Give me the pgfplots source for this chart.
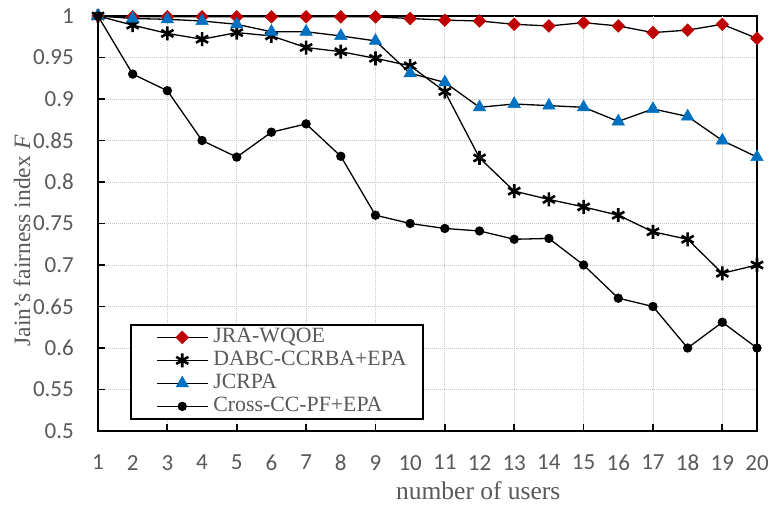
\documentclass[border=0pt]{standalone}
\usepackage{fontspec}
\setmainfont{Liberation Serif}
\newfontfamily\calibri{Carlito}
\usepackage{pgfplots}
\pgfplotsset{compat=1.18}
\usetikzlibrary{calc}
\definecolor{txtgray}{HTML}{595959}
\definecolor{mred}{HTML}{C00000}
\definecolor{mblue}{HTML}{0070C0}
\begin{document}
\begin{tikzpicture}
\begin{axis}[
  scale only axis, width=659pt, height=415pt,
  xmin=1, xmax=20, ymin=0.5, ymax=1,
  clip=false,
  axis line style={line width=2.2pt, black},
  tick align=inside, tick pos=left,
  major tick length=7pt,
  tick style={line width=1.8pt, black},
  /pgf/number format/assume math mode=true,
  ticklabel style={font=\calibri\fontsize{23}{23}\selectfont, text=txtgray, inner sep=0pt},
  xtick={1,...,20},
  xtick style={draw=none},
  xticklabel shift=24pt,
  extra x ticks={3,5,7,9,11,13,15,17,19},
  extra x tick labels={},
  extra x tick style={xmajorgrids=true, xtick style={draw=black}},
  ytick={0.5,0.55,0.6,0.65,0.7,0.75,0.8,0.85,0.9,0.95,1},
  yticklabels={0.5,0.55,0.6,0.65,0.7,0.75,0.8,0.85,0.9,0.95,1},
  yticklabel shift=24pt,
  ymajorgrids=true,
  major grid style={gray!45, line width=0.9pt, dash pattern=on 1pt off 1pt},
  xlabel={number of users},
  ylabel={Jain's fairness index \textit{F}},
  label style={text=txtgray},
  xlabel style={font=\fontsize{25.5}{25.5}\selectfont, at={(axis description cs:0.577,-0.166)}, anchor=base},
  ylabel style={font=\fontsize{23.5}{23.5}\selectfont, at={(axis description cs:-0.103,0.458)}, anchor=base},
  legend style={font=\fontsize{21.8}{21.8}\selectfont, text=txtgray,
    at={(axis description cs:0.0486,0.0265)}, anchor=south west,
    draw=black, line width=2.2pt, inner xsep=15pt, inner ysep=1pt,
    row sep=0pt, column sep=3.5pt,
    nodes={inner sep=1.5pt, text height=15pt, text depth=5pt}},
  legend cell align=left,
  legend image code/.code={\path (0pt,0pt); \draw[mark repeat=2,mark phase=2,line width=1.3pt,#1] plot coordinates {(10pt,0pt) (35.5pt,0pt) (61pt,0pt)};},
  every axis plot/.append style={line width=1.3pt, black},
]
\addplot[mark=square*, mark size=4.5pt, mark options={rotate=45, draw=mred, fill=mred, line width=0.5pt}] coordinates {
(1,1) (2,0.999) (3,0.999) (4,0.999) (5,0.999) (6,0.999) (7,0.999) (8,0.999) (9,0.999) (10,0.997)
(11,0.995) (12,0.994) (13,0.990) (14,0.988) (15,0.992) (16,0.988) (17,0.980) (18,0.983) (19,0.990) (20,0.973)};
\addlegendentry{JRA-WQOE}
\addplot[mark=asterisk, mark size=7pt, mark options={line width=2.6pt, black}] coordinates {
(1,1) (2,0.989) (3,0.979) (4,0.972) (5,0.980) (6,0.976) (7,0.962) (8,0.957) (9,0.949) (10,0.940)
(11,0.909) (12,0.829) (13,0.789) (14,0.779) (15,0.770) (16,0.760) (17,0.740) (18,0.731) (19,0.690) (20,0.700)};
\addlegendentry{DABC-CCRBA+EPA}
\addplot[mark=triangle*, mark size=7.2pt, mark options={draw=mblue, fill=mblue, line width=0.5pt}] coordinates {
(1,1) (2,0.997) (3,0.996) (4,0.994) (5,0.990) (6,0.981) (7,0.981) (8,0.976) (9,0.970) (10,0.931)
(11,0.920) (12,0.890) (13,0.894) (14,0.892) (15,0.890) (16,0.873) (17,0.888) (18,0.879) (19,0.850) (20,0.830)};
\addlegendentry{JCRPA}
\addplot[mark=*, mark size=4pt, mark options={black, fill=black}] coordinates {
(1,1) (2,0.930) (3,0.910) (4,0.850) (5,0.830) (6,0.860) (7,0.870) (8,0.831) (9,0.760) (10,0.750)
(11,0.744) (12,0.741) (13,0.731) (14,0.732) (15,0.700) (16,0.660) (17,0.650) (18,0.600) (19,0.631) (20,0.600)};
\addlegendentry{Cross-CC-PF+EPA}
\end{axis}
\pgfresetboundingbox
\path ($(current axis.south west)+(-98pt,-76pt)$) rectangle ($(current axis.north east)+(14pt,16pt)$);
\end{tikzpicture}
\end{document}
